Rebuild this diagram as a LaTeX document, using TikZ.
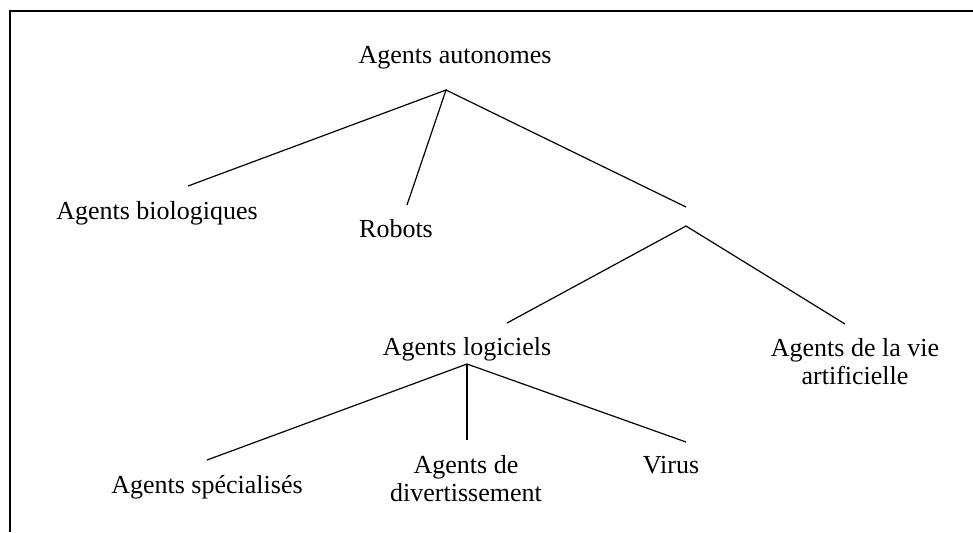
\documentclass[tikz,border=0pt]{standalone}
\usepackage{fontspec}
\setmainfont{Liberation Serif}
\tikzset{txt/.style={anchor=base, align=center, font=\fontsize{13}{14}\selectfont},
  branch/.style={line width=0.6pt}}

\begin{document}
\begin{tikzpicture}[x=0.5pt, y=-0.5pt]
  \useasboundingbox (0,0) rectangle (973,532);
  \draw[line width=1.4pt] (973,11) -- (10,11) -- (10,532);

  \node[txt] (auto) at (455,63) {Agents autonomes};
  \node[txt] (bio) at (157,219) {Agents biologiques};
  \node[txt] (robot) at (396,237) {Robots};
  \node[txt] (logi) at (467,355) {Agents logiciels};
  \node[txt] (vie) at (855,384) {Agents de la vie\\artificielle};
  \node[txt] (spec) at (207,493) {Agents sp\'ecialis\'es};
  \node[txt] (divert) at (466,501) {Agents de\\divertissement};
  \node[txt] (virus) at (671,473) {Virus};

  \coordinate (auto-b) at (446,90);
  \coordinate (bio-t) at (188,186);
  \coordinate (robot-t) at (407,205);
  \coordinate (soft-t) at (686,207);
  \coordinate (soft-b) at (686,226);
  \coordinate (logi-t) at (507,323);
  \coordinate (vie-t) at (845,324);
  \coordinate (logi-b) at (467,364);
  \coordinate (spec-t) at (207,460);
  \coordinate (divert-t) at (467,440);
  \coordinate (virus-t) at (686,442);

  \draw[branch] (bio-t) -- (auto-b) -- (robot-t);
  \draw[branch] (auto-b) -- (soft-t);
  \draw[branch] (logi-t) -- (soft-b) -- (vie-t);
  \draw[branch] (spec-t) -- (logi-b) -- (virus-t);
  \draw[branch] (logi-b) -- (divert-t);
\end{tikzpicture}
\end{document}
